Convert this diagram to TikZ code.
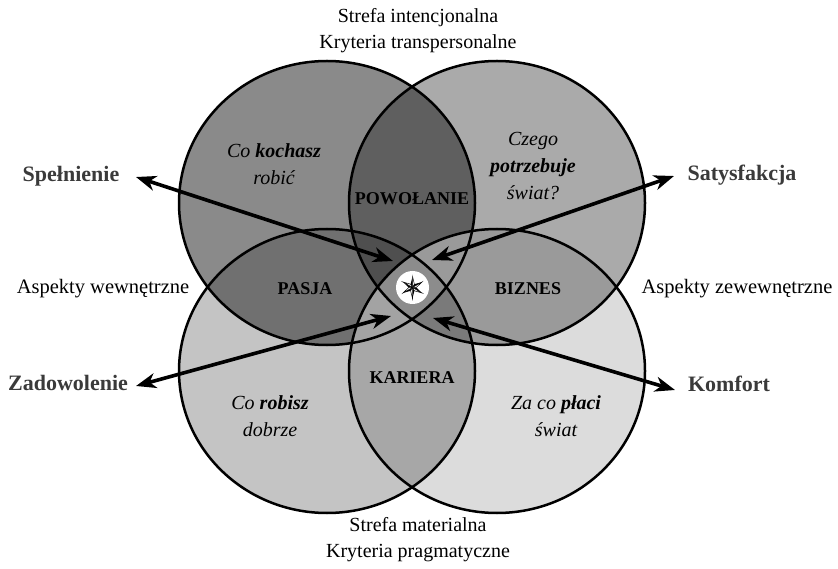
\documentclass[tikz,border=0pt]{standalone}
\usepackage{fontspec}
\setmainfont{Liberation Serif}
\usetikzlibrary{arrows.meta,calc}
\definecolor{labelgray}{HTML}{3A3A3A}
\definecolor{gA}{HTML}{8A8A8A}
\definecolor{gB}{HTML}{AAAAAA}
\definecolor{gC}{HTML}{C4C4C4}
\definecolor{gD}{HTML}{DCDCDC}
\definecolor{gAB}{HTML}{5F5F5F}
\definecolor{gAC}{HTML}{707070}
\definecolor{gBD}{HTML}{9A9A9A}
\definecolor{gCD}{HTML}{A7A7A7}
\definecolor{gABC}{HTML}{4F4F4F}
\definecolor{gABD}{HTML}{9A9A9A}
\definecolor{gACD}{HTML}{A3A3A3}
\definecolor{gBCD}{HTML}{7A7A7A}
\definecolor{gABCD}{HTML}{8C8C8C}
\def\eA{(327,203) ellipse [x radius=148pt, y radius=142pt]}
\def\eB{(497,203) ellipse [x radius=148pt, y radius=142pt]}
\def\eC{(327,371) ellipse [x radius=148pt, y radius=142pt]}
\def\eD{(497,371) ellipse [x radius=148pt, y radius=142pt]}
\tikzset{
  zonetext/.style={font=\fontsize{20}{26}\selectfont, align=center, text=black},
  sidelabel/.style={font=\fontsize{22}{26}\selectfont\bfseries, text=labelgray},
  aspect/.style={font=\fontsize{20.5}{26}\selectfont, text=black},
  regionlabel/.style={font=\fontsize{18}{22}\selectfont\bfseries, text=black},
  quest/.style={font=\fontsize{20}{27}\selectfont\itshape, align=center, text=black},
  arr/.style={line width=3.6pt, {Stealth[length=20pt,width=15pt,inset=6pt]}-{Stealth[length=20pt,width=15pt,inset=6pt]}},
  rim/.style={line width=2.5pt, draw=black}
}
\begin{document}
\begin{tikzpicture}[x=1pt,y=-1pt]
\useasboundingbox (0,0) rectangle (838,569);
% base fills
\fill[gA] \eA;
\fill[gB] \eB;
\fill[gC] \eC;
\fill[gD] \eD;
% pairwise
\begin{scope}\clip \eA; \fill[gAB] \eB; \end{scope}
\begin{scope}\clip \eA; \fill[gAC] \eC; \end{scope}
\begin{scope}\clip \eB; \fill[gBD] \eD; \end{scope}
\begin{scope}\clip \eC; \fill[gCD] \eD; \end{scope}
% triples
\begin{scope}\clip \eA; \clip \eB; \fill[gABC] \eC; \end{scope}
\begin{scope}\clip \eA; \clip \eB; \fill[gABD] \eD; \end{scope}
\begin{scope}\clip \eA; \clip \eC; \fill[gACD] \eD; \end{scope}
\begin{scope}\clip \eB; \clip \eC; \fill[gBCD] \eD; \end{scope}
% quad
\begin{scope}\clip \eA; \clip \eB; \clip \eC; \fill[gABCD] \eD; \end{scope}
% outlines
\draw[rim] \eA;
\draw[rim] \eB;
\draw[rim] \eC;
\draw[rim] \eD;
% texts
\node[zonetext] (top) at (418,31) {Strefa intencjonalna\\Kryteria transpersonalne};
\node[zonetext] (bottom) at (418,540) {Strefa materialna\\Kryteria pragmatyczne};
\node[aspect] (inner) at (103,289) {Aspekty wewnętrzne};
\node[aspect] (outer) at (737,289) {Aspekty zewewnętrzne};
\node[sidelabel] (sp) at (71,176) {Spełnienie};
\node[sidelabel] (za) at (68,383) {Zadowolenie};
\node[sidelabel] (sa) at (742,175) {Satysfakcja};
\node[sidelabel] (ko) at (729,384) {Komfort};
\node[quest] (q1) at (274,164) {Co \textbf{kochasz}\\robić};
\node[quest] (q2) at (533,166) {Czego\\\textbf{potrzebuje}\\świat?};
\node[quest] (q3) at (270,416) {Co \textbf{robisz}\\dobrze};
\node[quest] (q4) at (556,416) {Za co \textbf{płaci}\\świat};
\node[regionlabel] (pow) at (412,199) {POWOŁANIE};
\node[regionlabel] (pas) at (305,289) {PASJA};
\node[regionlabel] (biz) at (528,289) {BIZNES};
\node[regionlabel] (kar) at (412,378) {KARIERA};
% arrows
\coordinate (o1) at (136,177); \coordinate (i1) at (393,261);
\coordinate (o2) at (674,176); \coordinate (i2) at (432,260);
\coordinate (o3) at (136,386); \coordinate (i3) at (391,316);
\coordinate (o4) at (675,390); \coordinate (i4) at (433,318);
\draw[arr] (o1) -- (i1);
\draw[arr] (o2) -- (i2);
\draw[arr] (o3) -- (i3);
\draw[arr] (o4) -- (i4);
% star
\node[circle, fill=white, minimum size=33pt, inner sep=0pt] (hub) at (412.5,287.5) {};
\foreach \k in {0,...,5} {
  \pgfmathsetmacro{\a}{90+60*\k}
  \fill[black] (hub.center) -- ++(\a:11pt) -- ($(hub.center)+(\a+30:3.8pt)$) -- cycle;
  \filldraw[fill=white, draw=black, line width=0.5pt] (hub.center) -- ++(\a:11pt) -- ($(hub.center)+(\a-30:3.8pt)$) -- cycle;
}
\end{tikzpicture}
\end{document}
